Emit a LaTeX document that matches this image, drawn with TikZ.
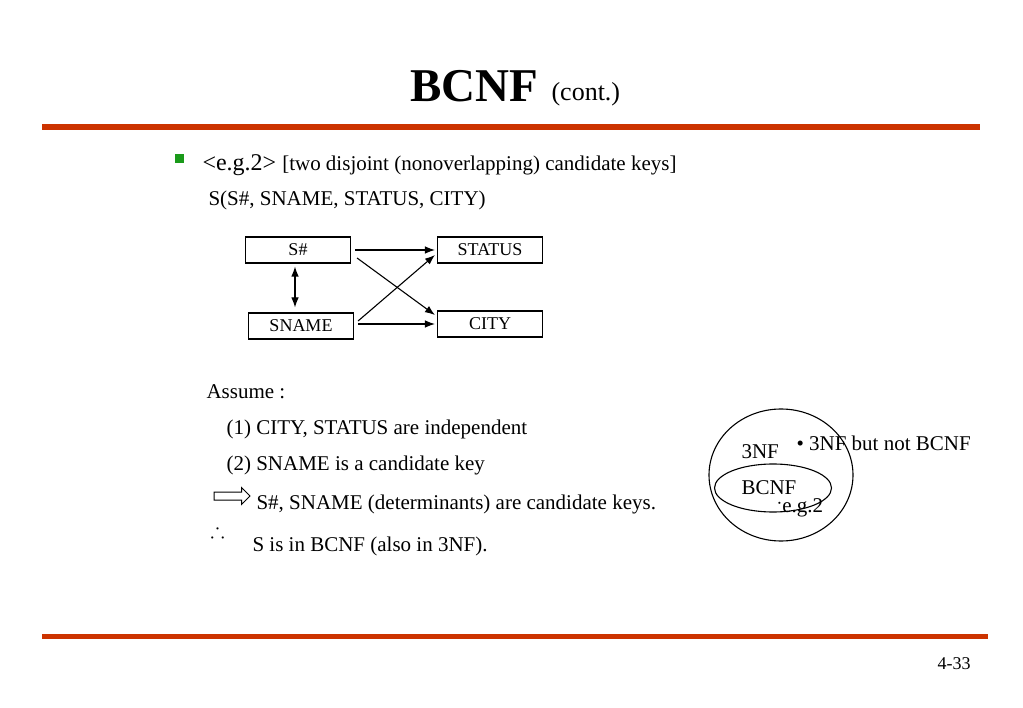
\documentclass[tikz,border=0pt]{standalone}
\usepackage{fontspec}
\setmainfont{Liberation Serif}
\usepackage{amssymb}
\usetikzlibrary{shapes.arrows, shapes.geometric, arrows.meta}
\definecolor{barred}{HTML}{CC3300}
\definecolor{bulletgreen}{HTML}{1A9A1A}
\newcommand{\txt}[1]{\fontsize{#1}{#1}\selectfont}

\begin{document}
\begin{tikzpicture}[x=1pt, y=-1pt, >={Latex[length=10pt,width=7.5pt]}, line width=1.1pt, every node/.style={inner sep=0pt}]
        \useasboundingbox (0,0) rectangle (1023,708);
        \tikzset{attr/.style={draw, minimum width=105pt, minimum height=26pt, font=\txt{18}},
                 line/.style={anchor=base west, font=\txt{21}}}
        % title and bars
        \node[anchor=base] (title) at (474,102) {\txt{47}\textbf{BCNF}};
        \node[anchor=base west] (cont) at (551,101) {\txt{26}(cont.)};
        \draw[barred, line width=6pt] (42,127) -- (980,127);
        \draw[barred, line width=5pt] (42,636) -- (988,636);
        \node[anchor=base] (page) at (954,669) {\txt{18}4-33};
        % heading lines
        \node[fill=bulletgreen, minimum size=9pt] (bul) at (179,159) {};
        \node[line] (eg) at (202,171) {\txt{24}<e.g.2> \txt{21}[two disjoint (nonoverlapping) candidate keys]};
        \node[line] (rel) at (208,206) {S(S\#, SNAME, STATUS, CITY)};
        % dependency diagram
        \node[attr] (SNo) at (298,250) {S\#};
        \node[attr] (STATUS) at (490,250) {STATUS};
        \node[attr] (SNAME) at (301,326) {SNAME};
        \node[attr] (CITY) at (490,324) {CITY};
        \draw[->] ([xshift=4]SNo.east) -- ([xshift=-2]STATUS.west);
        \draw[->] ([shift={(6,8)}]SNo.east) -- ([shift={(-2,-9)}]CITY.west);
        \draw[->] ([shift={(4,-5)}]SNAME.east) -- ([shift={(-2,5)}]STATUS.west);
        \draw[->] ([shift={(4,-2)}]SNAME.east) -- ([xshift=-2]CITY.west);
        \draw[<->] ([shift={(-3,3)}]SNo.south) -- ([shift={(-3,-5)}]SNo.south |- SNAME.north);
        % assumptions
        \node[line] (assume) at (206,399) {Assume :};
        \node[line] (as1) at (226,435) {(1) CITY, STATUS are independent};
        \node[line] (as2) at (226,470) {(2) SNAME is a candidate key};
        \node[single arrow, draw, fill=white, line width=1pt, minimum height=36pt, inner ysep=3.5pt,
              single arrow head extend=4.5pt] (impl) at (230,496) {};
        \node[line] (as3) at (256,509) {S\#, SNAME (determinants) are candidate keys.};
        \node[anchor=base west, font=\txt{21}] (thf) at (210,537) {$\therefore$};
        \node[line] (as4) at (252,551) {S is in BCNF (also in 3NF).};
        % normal forms
        \node[draw, ellipse, minimum width=144pt, minimum height=132pt] (NF3) at (781,475) {};
        \node[draw, ellipse, minimum width=117pt, minimum height=48pt] (BCNF) at (773,488) {};
        \node[line] (lab3) at (741,459) {3NF};
        \node[line] (labB) at (741,494) {BCNF};
        \node[line] (notB) at (796,450) {\textbullet\ 3NF but not BCNF};
        \node[line] (eg2) at (776,512) {\raisebox{4pt}{$\cdot$}e.g.2};
\end{tikzpicture}
\end{document}
